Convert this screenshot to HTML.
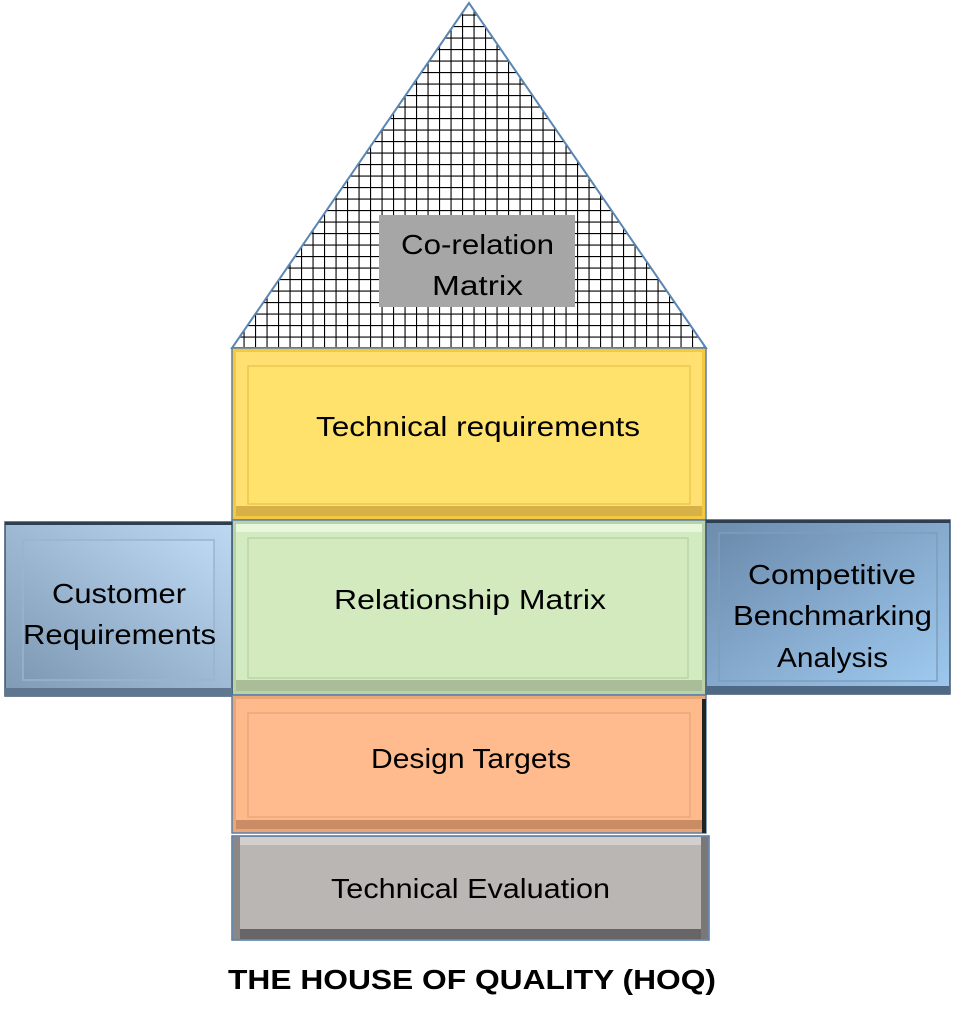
<!DOCTYPE html>
<html><head><meta charset="utf-8"><style>
html,body{margin:0;padding:0;background:#fff;}
svg{display:block}
text{font-family:"Liberation Sans",sans-serif;fill:#000;}
</style></head><body>
<svg width="963" height="1024" viewBox="0 0 963 1024" xmlns="http://www.w3.org/2000/svg">
<defs>
<pattern id="grid" x="2" y="3" width="11.5" height="11.5" patternUnits="userSpaceOnUse">
<rect width="11.5" height="11.5" fill="#fff"/>
<path d="M0 0H11.5M0 0V11.5" stroke="#000" stroke-width="2.2" fill="none"/>
</pattern>
<linearGradient id="blueL" x1="0" y1="1" x2="1" y2="0">
<stop offset="0" stop-color="#7f9ab5"/><stop offset="1" stop-color="#bcd8f2"/></linearGradient>
<linearGradient id="blueR" x1="0" y1="0" x2="1" y2="1">
<stop offset="0" stop-color="#6c8cad"/><stop offset="1" stop-color="#9ec8ee"/></linearGradient>
</defs>
<!-- roof -->
<polygon points="469,3 232,348 706,348" fill="url(#grid)" stroke="#5b85b3" stroke-width="2"/>
<rect x="379" y="215" width="196" height="92" fill="#a6a6a6"/>
<text x="401" y="254" font-size="28" textLength="153" lengthAdjust="spacingAndGlyphs">Co-relation</text>
<text x="432" y="295" font-size="28" textLength="91" lengthAdjust="spacingAndGlyphs">Matrix</text>

<!-- yellow -->
<rect x="232" y="348" width="474" height="172" fill="#f5c842" stroke="#5b7fa8" stroke-width="1.5"/>
<rect x="236" y="352" width="466" height="164" fill="#ffe070"/>
<rect x="248" y="366" width="442" height="138" fill="#ffe26c" stroke="#e8c850" stroke-width="1.5"/>
<rect x="236" y="506" width="466" height="10" fill="#d8b048"/>
<text x="316" y="436" font-size="28" textLength="324" lengthAdjust="spacingAndGlyphs">Technical requirements</text>

<!-- green -->
<rect x="232" y="520" width="474" height="175" fill="#b9d3a6" stroke="#5b7fa8" stroke-width="1.5"/>
<rect x="236" y="524" width="466" height="167" fill="#d3ebc0"/>
<rect x="236" y="524" width="466" height="8" fill="#e8f6dc"/>
<rect x="248" y="538" width="440" height="140" fill="#d3eabf" stroke="#bcd4a8" stroke-width="1.5"/>
<rect x="236" y="680" width="466" height="11" fill="#a9be98"/>
<text x="334" y="609" font-size="28" textLength="272" lengthAdjust="spacingAndGlyphs">Relationship Matrix</text>

<!-- customer -->
<rect x="5" y="522" width="227" height="174" fill="url(#blueL)" stroke="#3c5570" stroke-width="1.5"/>
<rect x="5" y="522" width="227" height="3" fill="#2e3f52"/>
<rect x="23" y="540" width="191" height="140" fill="url(#blueL)" stroke="#9bb4cc" stroke-width="1.5"/>
<rect x="5" y="688" width="227" height="8" fill="#5e7690"/>
<text x="52" y="603" font-size="28" textLength="134" lengthAdjust="spacingAndGlyphs">Customer</text>
<text x="23" y="644" font-size="28" textLength="193" lengthAdjust="spacingAndGlyphs">Requirements</text>

<!-- competitive -->
<rect x="706" y="520" width="244" height="174" fill="url(#blueR)" stroke="#3c5570" stroke-width="1.5"/>
<rect x="706" y="520" width="244" height="3" fill="#2e3f52"/>
<rect x="719" y="533" width="218" height="148" fill="url(#blueR)" stroke="#7f9dbb" stroke-width="1.5"/>
<rect x="706" y="686" width="244" height="8" fill="#4f6985"/>
<text x="748" y="584" font-size="28" textLength="168" lengthAdjust="spacingAndGlyphs">Competitive</text>
<text x="733" y="625" font-size="28" textLength="199" lengthAdjust="spacingAndGlyphs">Benchmarking</text>
<text x="777" y="667" font-size="28" textLength="111" lengthAdjust="spacingAndGlyphs">Analysis</text>

<!-- orange -->
<rect x="232" y="695" width="474" height="138" fill="#e9a779" stroke="#5b7fa8" stroke-width="1.5"/>
<rect x="236" y="699" width="466" height="130" fill="#ffba8c"/>
<rect x="248" y="713" width="442" height="104" fill="#ffbb8d" stroke="#eaa87c" stroke-width="1.5"/>
<rect x="236" y="820" width="466" height="9" fill="#c98c64"/>
<rect x="702" y="699" width="4" height="134" fill="#222"/>
<text x="371" y="768" font-size="28" textLength="200" lengthAdjust="spacingAndGlyphs">Design Targets</text>

<!-- gray -->
<rect x="232" y="836" width="477" height="104" fill="#bab6b4" stroke="#4f77a6" stroke-width="1.5"/>
<rect x="233" y="837" width="475" height="8" fill="#d2cfcd"/>
<rect x="233" y="929" width="475" height="10" fill="#676565"/>
<rect x="233" y="837" width="7" height="102" fill="#8a8786"/>
<rect x="701" y="837" width="7" height="102" fill="#7a7877"/>
<text x="331" y="898" font-size="28" textLength="279" lengthAdjust="spacingAndGlyphs">Technical Evaluation</text>

<text x="228" y="989" font-size="28" font-weight="bold" textLength="488" lengthAdjust="spacingAndGlyphs">THE HOUSE OF QUALITY (HOQ)</text>
</svg>
</body></html>
